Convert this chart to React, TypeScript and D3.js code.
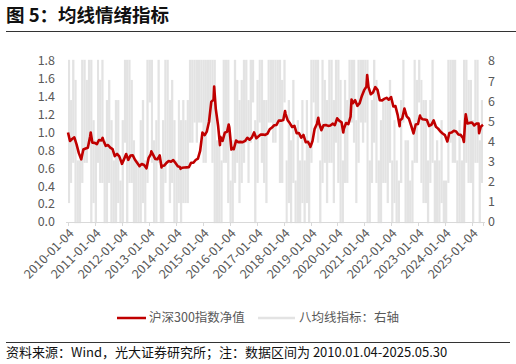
import React from "react";
import * as d3 from "d3";

// 沪深300指数净值 (month-end close / 2010-01-04 close)
const navMonthly: number[][] = [
	[0.906, 0.928, 0.946, 0.868, 0.77, 0.725, 0.811, 0.821, 0.83, 0.956, 0.887, 0.885],
	[0.87, 0.917, 0.911, 0.909, 0.851, 0.861, 0.831, 0.814, 0.737, 0.762, 0.734, 0.664],
	[0.697, 0.745, 0.695, 0.743, 0.745, 0.696, 0.66, 0.624, 0.649, 0.638, 0.605, 0.713],
	[0.76, 0.756, 0.706, 0.701, 0.745, 0.625, 0.631, 0.661, 0.681, 0.674, 0.692, 0.659],
	[0.623, 0.616, 0.607, 0.61, 0.611, 0.612, 0.663, 0.662, 0.693, 0.709, 0.794, 0.999],
	[0.971, 1.01, 1.124, 1.343, 1.369, 1.265, 1.079, 0.952, 0.906, 0.999, 1.009, 1.055],
	[0.833, 0.814, 0.91, 0.893, 0.896, 0.892, 0.906, 0.941, 0.92, 0.944, 1.001, 0.937],
	[0.958, 0.977, 0.978, 0.973, 0.988, 1.037, 1.057, 1.081, 1.085, 1.133, 1.133, 1.14],
	[1.209, 1.138, 1.103, 1.062, 1.075, 0.993, 0.995, 0.943, 0.973, 0.892, 0.897, 0.852],
	[0.905, 1.038, 1.095, 1.107, 1.027, 1.082, 1.085, 1.075, 1.079, 1.099, 1.083, 1.159],
	[1.131, 1.115, 1.043, 1.107, 1.094, 1.178, 1.328, 1.362, 1.298, 1.328, 1.409, 1.474],
	[1.514, 1.509, 1.428, 1.449, 1.508, 1.478, 1.361, 1.36, 1.376, 1.388, 1.367, 1.397],
	[1.291, 1.296, 1.195, 1.136, 1.157, 1.269, 1.18, 1.154, 1.076, 0.992, 1.09, 1.095],
	[1.176, 1.149, 1.146, 1.14, 1.074, 1.087, 1.135, 1.065, 1.044, 1.011, 0.989, 0.971],
	[0.91, 0.995, 1.0, 1.02, 1.012, 0.979, 0.974, 0.939, 1.137, 1.101, 1.108, 1.113],
	[1.08, 1.1, 1.1, 1.066, 1.086],
];

// intra-month highs and lows of the same series
const navExtremes: [string, number][] = [
	["2010-01-04", 1.0], ["2010-07-02", 0.7], ["2010-11-08", 1.0], ["2011-04-18", 0.94],
	["2012-01-05", 0.65], ["2012-03-02", 0.76], ["2012-12-03", 0.6], ["2013-02-06", 0.79],
	["2013-06-25", 0.61], ["2014-03-10", 0.595], ["2015-06-08", 1.515], ["2015-08-26", 0.86],
	["2015-12-22", 1.09], ["2016-01-28", 0.81], ["2018-01-24", 1.24], ["2019-01-03", 0.84],
	["2019-04-19", 1.165], ["2020-03-23", 1.0], ["2020-07-13", 1.37], ["2021-02-10", 1.643],
	["2022-04-26", 1.07], ["2022-10-31", 0.99], ["2023-01-27", 1.19], ["2024-02-02", 0.9],
	["2024-09-13", 0.894], ["2024-10-08", 1.204], ["2025-04-07", 0.994], ["2025-05-30", 1.086],
];

// 八均线指标: monthly low / high of the daily reading (0-8)
const signalLo: number[][] = [
	[1, 2, 3, 0, 0, 0, 2, 3, 3, 4, 0, 1],
	[0, 3, 2, 2, 0, 0, 2, 0, 0, 0, 1, 0],
	[0, 4, 0, 2, 2, 0, 0, 0, 0, 1, 0, 2],
	[6, 3, 0, 0, 3, 0, 0, 2, 3, 1, 2, 0],
	[0, 1, 0, 1, 1, 1, 4, 4, 5, 4, 5, 5],
	[3, 3, 5, 5, 3, 0, 0, 0, 0, 3, 3, 1],
	[0, 0, 2, 3, 1, 2, 3, 4, 2, 4, 6, 0],
	[2, 5, 3, 2, 1, 5, 5, 4, 4, 5, 2, 2],
	[6, 0, 1, 0, 2, 0, 0, 0, 1, 0, 1, 0],
	[3, 6, 5, 4, 0, 2, 3, 1, 3, 3, 1, 4],
	[2, 0, 0, 2, 2, 5, 5, 4, 1, 3, 5, 4],
	[5, 0, 0, 2, 4, 2, 0, 0, 2, 2, 1, 3],
	[0, 1, 0, 0, 2, 5, 0, 0, 0, 0, 3, 3],
	[6, 2, 1, 1, 0, 2, 3, 0, 0, 0, 1, 0],
	[0, 2, 4, 3, 3, 0, 0, 0, 0, 3, 2, 2],
	[0, 3, 3, 0, 2],
];
const signalHi: number[][] = [
	[8, 6, 8, 7, 3, 3, 8, 8, 7, 8, 8, 5],
	[4, 8, 7, 8, 4, 6, 7, 5, 3, 6, 6, 2],
	[5, 8, 8, 8, 7, 4, 3, 3, 5, 6, 3, 8],
	[8, 8, 4, 5, 8, 3, 5, 8, 8, 6, 7, 5],
	[3, 6, 5, 6, 5, 6, 8, 8, 8, 8, 8, 8],
	[8, 8, 8, 8, 8, 8, 4, 4, 3, 8, 8, 8],
	[2, 4, 8, 7, 6, 7, 8, 8, 6, 8, 8, 5],
	[7, 8, 8, 6, 6, 8, 8, 8, 8, 8, 8, 7],
	[8, 3, 6, 4, 7, 2, 5, 3, 6, 3, 6, 4],
	[8, 8, 8, 8, 3, 8, 7, 6, 8, 8, 6, 8],
	[8, 7, 3, 7, 6, 8, 8, 8, 5, 8, 8, 8],
	[8, 8, 3, 6, 8, 7, 3, 5, 6, 6, 6, 7],
	[3, 5, 3, 2, 6, 8, 4, 4, 2, 3, 8, 7],
	[8, 7, 6, 6, 3, 6, 8, 3, 4, 3, 5, 2],
	[2, 8, 8, 8, 8, 3, 5, 3, 8, 8, 7, 7],
	[5, 8, 8, 4, 6],
];

const tickYears = d3.range(2010, 2026);
const leftTicks = d3.range(0, 10).map((i) => i * 0.2);
const rightTicks = d3.range(0, 9);

const startDate = new Date(2010, 0, 4);
const endDate = new Date(2025, 4, 30);
const font = "'Noto Sans CJK SC', 'Noto Sans', sans-serif";

export default function App() {
	const W = 516;
	const H = 364;
	const x = d3.scaleTime().domain([startDate, endDate]).range([68, 483]);
	const yL = d3.scaleLinear().domain([0, 1.8]).range([222, 61]);
	const yR = d3.scaleLinear().domain([0, 8]).range([222, 61]);
	const parse = d3.timeParse("%Y-%m-%d");

	// build the nav series: month-end closes plus extremes
	const extremes = navExtremes.map(([d, v]) => ({ date: parse(d) as Date, v }));
	const monthly: { date: Date; v: number }[] = [];
	navMonthly.forEach((row, yi) =>
		row.forEach((v, m) => {
			let date = new Date(2010 + yi, m + 1, 0);
			if (date > endDate) date = endDate;
			const near = extremes.some((e) => Math.abs(+e.date - +date) < 3 * 864e5);
			if (!near) monthly.push({ date, v });
		}),
	);
	const nav = [...monthly, ...extremes].sort((a, b) => +a.date - +b.date);
	const line = d3
		.line<{ date: Date; v: number }>()
		.x((d) => x(d.date))
		.y((d) => yL(d.v));

	// gray bands
	const bands: { x0: number; x1: number; lo: number; hi: number }[] = [];
	signalLo.forEach((row, yi) =>
		row.forEach((lo, m) => {
			const s = new Date(2010 + yi, m, 1);
			const e = new Date(2010 + yi, m + 1, 1);
			const x0 = x(s < startDate ? startDate : s);
			const x1 = x(e > endDate ? endDate : e);
			bands.push({ x0, x1, lo, hi: signalHi[yi][m] });
		}),
	);

	const axisColor = "#d9d9d9";
	const labelColor = "#595959";

	return (
		<svg width={W} height={H} style={{ position: "absolute", left: 0, top: 0, background: "#fff" }} fontFamily={font}>
			<text x={6} y={22} fontSize={18.5} fontWeight="bold" fill="#111">
				图 5：均线情绪指标
			</text>
			<line x1={6} x2={516} y1={31.5} y2={31.5} stroke="#333" strokeWidth={1} />

			<g fill="#e3e3e3">
				{bands.map((b, i) => (
					<rect
						key={i}
						x={b.x0}
						width={Math.max(0.5, b.x1 - b.x0)}
						y={yR(b.hi) - 1.2}
						height={yR(b.lo) - yR(b.hi) + 2.4}
					/>
				))}
			</g>

			<line x1={66} x2={485} y1={222.5} y2={222.5} stroke={axisColor} strokeWidth={1} />
			{tickYears.map((yr) => {
				const tx = Math.round(x(new Date(yr, 0, 4))) + 0.5;
				return (
					<g key={yr}>
						<line x1={tx} x2={tx} y1={222} y2={226} stroke={axisColor} />
						<text
							transform={`translate(${tx + 3},${231}) rotate(-45)`}
							textAnchor="end"
							dy="0.35em"
							fontSize={12.5}
							fill={labelColor}
						>
							{`${yr}-01-04`}
						</text>
					</g>
				);
			})}
			<line x1={483.5} x2={483.5} y1={222} y2={226} stroke={axisColor} />

			<path d={line(nav) ?? ""} fill="none" stroke="#c00000" strokeWidth={2.6} strokeLinejoin="round" />

			{leftTicks.map((t) => (
				<text key={t} x={55} y={yL(t)} dy="0.35em" textAnchor="end" fontSize={12.5} fill={labelColor}>
					{t.toFixed(1)}
				</text>
			))}
			{rightTicks.map((t) => (
				<text key={t} x={488} y={yR(t)} dy="0.35em" textAnchor="start" fontSize={12.5} fill={labelColor}>
					{t}
				</text>
			))}

			<line x1={117} x2={146} y1={318} y2={318} stroke="#c00000" strokeWidth={2.5} />
			<text x={149} y={318} dy="0.35em" fontSize={12.5} fill={labelColor}>
				沪深300指数净值
			</text>
			<line x1={258} x2={295} y1={318} y2={318} stroke="#e3e3e3" strokeWidth={2.5} />
			<text x={299} y={318} dy="0.35em" fontSize={12.5} fill={labelColor}>
				八均线指标：右轴
			</text>

			<line x1={6} x2={510} y1={342.5} y2={342.5} stroke="#333" strokeWidth={1} />
			<text x={6} y={352} dy="0.35em" fontSize={13} fill="#111">
				资料来源：Wind，光大证券研究所；注：数据区间为 2010.01.04-2025.05.30
			</text>
		</svg>
	);
}
